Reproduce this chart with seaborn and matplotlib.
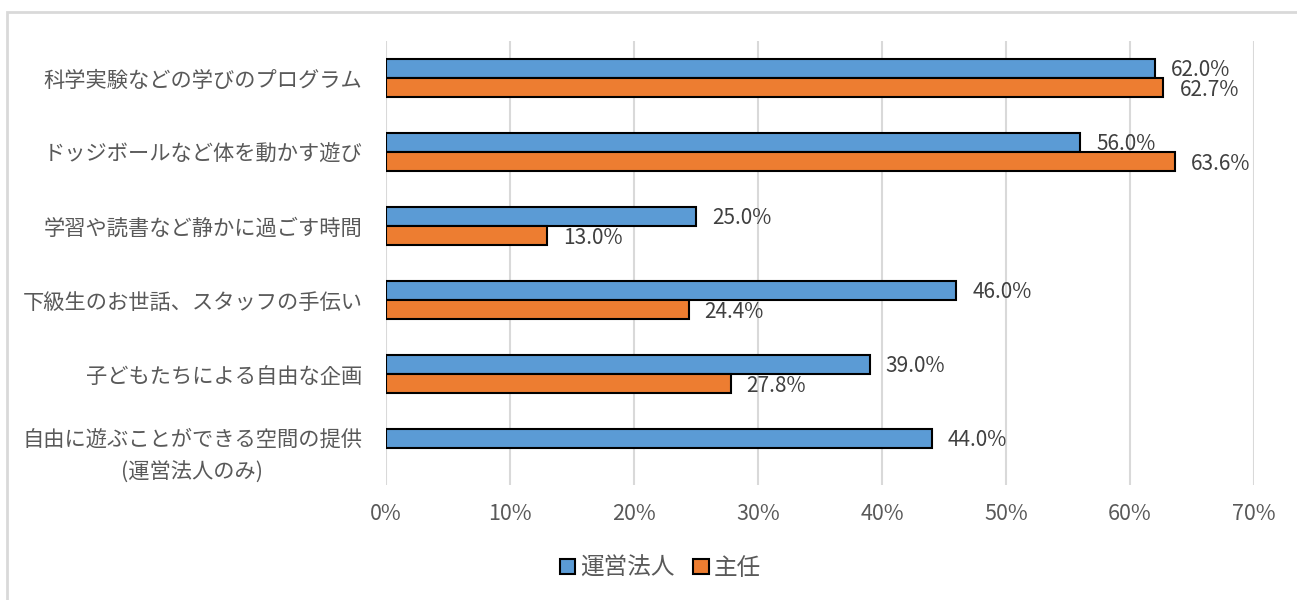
import pandas as pd
import seaborn as sns
import matplotlib.pyplot as plt
from matplotlib.patches import Patch, Rectangle

items = ['科学実験などの学びのプログラム',
         'ドッジボールなど体を動かす遊び',
         '学習や読書など静かに過ごす時間',
         '下級生のお世話、スタッフの手伝い',
         '子どもたちによる自由な企画',
         '自由に遊ぶことができる空間の提供\n(運営法人のみ)']
groups = ['運営法人', '主任']
corp = [62.0, 56.0, 25.0, 46.0, 39.0, 44.0]
chief = [62.7, 63.6, 13.0, 24.4, 27.8, None]
xticks = [0, 10, 20, 30, 40, 50, 60, 70]
colors = ['#5B9BD5', '#ED7D31']

rows = []
for group, vals in zip(groups, [corp, chief]):
    for item, v in zip(items, vals):
        if v is not None:
            rows.append({'item': item, 'group': group, 'value': v})
df = pd.DataFrame(rows)

sns.set_style('white')
plt.rcParams['font.family'] = ['Noto Sans CJK JP', 'DejaVu Sans']

fig = plt.figure(figsize=(12.97, 6), dpi=100)
ax = fig.add_axes([386 / 1297, 1 - 485 / 600, (1254 - 386) / 1297, 444 / 600])

sns.barplot(data=df, y='item', x='value', hue='group', order=items, hue_order=groups,
            orient='h', palette=colors, saturation=1, edgecolor='black', linewidth=1.5,
            width=0.52, legend=False, ax=ax, zorder=3)

# value labels just right of each bar, nudged down a touch so digits sit centred
for cont in ax.containers:
    for bar in cont:
        w = bar.get_width()
        yc = bar.get_y() + bar.get_height() / 2
        ax.annotate(f'{w:.1f}%', (w, yc), xytext=(11.5, -1.5), textcoords='offset points',
                    ha='left', va='center', fontsize=15, color='#404040', zorder=5)

ax.set_xlim(0, 70)
ax.set_ylim(5.5, -0.5)
ax.set_xticks(xticks)
ax.set_xticklabels([f'{t}%' for t in xticks], fontsize=15.5, color='#595959')
ax.tick_params(axis='x', length=0, pad=13)
ax.tick_params(axis='y', length=0, pad=17)
ax.set_yticks(range(len(items)))
ax.set_yticklabels(items, fontsize=15.3, color='#595959', linespacing=1.65,
                   multialignment='center')
ax.grid(axis='x', color='#d9d9d9', linewidth=1.5, zorder=0)
ax.grid(axis='y', visible=False)
for s in ax.spines.values():
    s.set_visible(False)
ax.set_xlabel('')
ax.set_ylabel('')

handles = [Patch(facecolor=c, edgecolor='black', linewidth=1.5) for c in colors]
fig.legend(handles, groups, loc='center', bbox_to_anchor=(0.509, 0.053), ncol=2,
           frameon=False, fontsize=17, handlelength=0.65, handleheight=0.65,
           handletextpad=0.2, columnspacing=0.8, labelcolor='#595959')

fig.patches.append(Rectangle((6.5 / 1297, -0.1), 1.2, 1 - 11.5 / 600 + 0.1,
                             transform=fig.transFigure, fill=False,
                             edgecolor='#d9d9d9', linewidth=2))

fig.savefig('out.png', dpi=100)
